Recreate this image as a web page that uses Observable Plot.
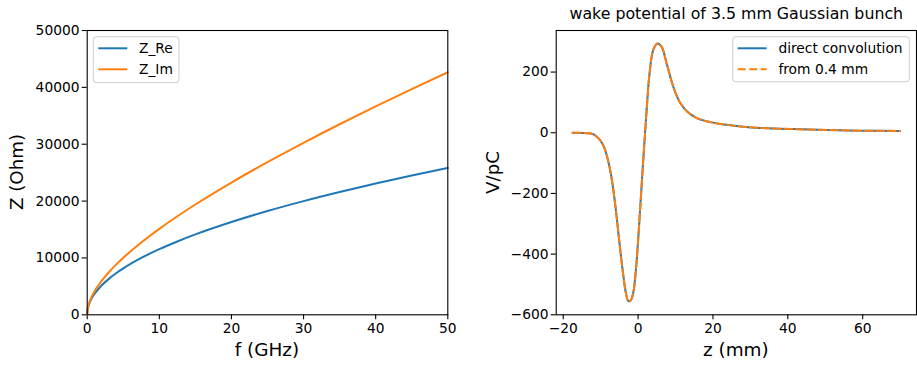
<!DOCTYPE html>
<html><head><meta charset="utf-8">
<script src="https://cdn.jsdelivr.net/npm/d3@7"></script>
<script src="https://cdn.jsdelivr.net/npm/@observablehq/plot@0.6"></script>
<style>
body{margin:0;background:#fff;}
#wrap{position:relative;width:917px;height:365px;font-family:"DejaVu Sans";}
#left,#right{position:absolute;top:0;}
#left{left:0;} #right{left:460px;}
</style></head><body>
<div id="wrap"><div id="left"></div><div id="right"></div></div>
<script>
// ---- Left panel: impedance ----
const freqGHz = [0, 0.05, 0.1, 0.25, 0.5, 1, 2, 3, 4, 5, 7.5, 10, 12.5, 15, 20, 25, 30, 35, 40, 45, 50];
const zRe = [0, 820, 1150, 1830, 2580, 3650, 5160, 6320, 7300, 8160, 10000, 11540, 12900, 14140, 16320, 18250, 19990, 21590, 23080, 24490, 25810];
const zIm = [0, 850, 1220, 1960, 2820, 4090, 5970, 7490, 8820, 10030, 12720, 15120, 17330, 19400, 23260, 26850, 30250, 33510, 36640, 39690, 42660];
const leftSeries = ["Z_Re", "Z_Im"];
const leftXTicks = [0, 10, 20, 30, 40, 50];
const leftYTicks = [0, 10000, 20000, 30000, 40000, 50000];

// ---- Right panel: wake potential ----
const wakeZmm = [-17.5, -15, -13, -12, -11, -10, -9, -8, -7, -6, -5, -4, -3.3, -2.6, -2.0, -1.3, -0.5, 0.4, 1.3, 2.2, 3.1, 4.1, 5.2, 6.3, 7.7, 9.5, 11.2, 13.1, 15.7, 19.3, 23.7, 28, 32.6, 41.5, 50.4, 59.3, 70];
const wakeDirect = [0, -0.5, -2, -5, -13, -27, -50, -92, -155, -248, -360, -465, -525, -555, -553, -528, -440, -280, -105, 60, 200, 275, 294, 283, 225, 148, 100, 70, 48, 35, 26, 20, 16, 12, 9, 7, 6];
const wakeFrom04 = [0, -0.5, -2, -5, -13, -27, -50, -92, -155, -248, -360, -465, -525, -555, -553, -528, -440, -280, -105, 60, 200, 275, 294, 283, 225, 148, 100, 70, 48, 35, 26, 20, 16, 12, 9, 7, 6];
const rightSeries = ["direct convolution", "from 0.4 mm"];
const rightXTicks = [-20, 0, 20, 40, 60];
const rightYTicks = [-600, -400, -200, 0, 200];
const title = "wake potential of 3.5 mm Gaussian bunch";

const blue = "#1f77b4", orange = "#ff7f0e";
const FONT = "DejaVu Sans";
const baseStyle = {fontFamily: FONT, fontSize: "13.8px", color: "black", background: "white", overflow: "visible"};

const reRows = freqGHz.map((f, i) => ({f, v: zRe[i]}));
const imRows = freqGHz.map((f, i) => ({f, v: zIm[i]}));

const leftPlot = Plot.plot({
  width: 460, height: 365,
  marginLeft: 86.7, marginRight: 12.7, marginTop: 30, marginBottom: 50.7,
  style: baseStyle,
  x: {domain: [0, 50]},
  y: {domain: [0, 50000]},
  marks: [
    Plot.axisX({ticks: leftXTicks, tickFormat: "d", tickSize: 5, tickPadding: 3.4, label: null, strokeWidth: 1.1}),
    Plot.axisY({ticks: leftYTicks, tickFormat: "d", tickSize: 5, tickPadding: 2.7, label: null, strokeWidth: 1.1}),
    Plot.line(reRows, {x: "f", y: "v", stroke: blue, strokeWidth: 2, curve: "monotone-x"}),
    Plot.line(imRows, {x: "f", y: "v", stroke: orange, strokeWidth: 2, curve: "monotone-x"}),
    Plot.frame({stroke: "black", strokeWidth: 1.1})
  ]
});
document.getElementById("left").appendChild(leftPlot);

const directRows = wakeZmm.map((z, i) => ({z, v: wakeDirect[i]}));
const fromRows = wakeZmm.map((z, i) => ({z, v: wakeFrom04[i]}));

const rightPlot = Plot.plot({
  width: 457, height: 365,
  marginLeft: 95.7, marginRight: 1, marginTop: 30, marginBottom: 50.7,
  style: baseStyle,
  x: {domain: [-21.875, 74.375]},
  y: {domain: [-600, 337]},
  marks: [
    Plot.axisX({ticks: rightXTicks, tickFormat: "d", tickSize: 5, tickPadding: 3.4, label: null, strokeWidth: 1.1}),
    Plot.axisY({ticks: rightYTicks, tickFormat: "d", tickSize: 5, tickPadding: 2.7, label: null, strokeWidth: 1.1}),
    Plot.line(directRows, {x: "z", y: "v", stroke: blue, strokeWidth: 2, curve: "catmull-rom"}),
    Plot.line(fromRows, {x: "z", y: "v", stroke: orange, strokeWidth: 2, strokeDasharray: "8,3.5", curve: "catmull-rom"}),
    Plot.frame({stroke: "black", strokeWidth: 1.1})
  ]
});
document.getElementById("right").appendChild(rightPlot);

function addText(svg, txt, x, y, size, opts = {}) {
  const t = d3.select(svg).append("text")
    .attr("x", x).attr("y", y)
    .attr("font-family", FONT).attr("font-size", size)
    .attr("fill", "black")
    .attr("text-anchor", opts.anchor || "middle")
    .text(txt);
  if (opts.rotate) t.attr("transform", `rotate(-90,${x},${y})`);
  if (opts.dy) t.attr("dy", opts.dy);
  return t;
}

function addLegend(svg, box, labels, colors, dashes) {
  const g = d3.select(svg).append("g");
  g.append("rect").attr("x", box.x).attr("y", box.y).attr("width", box.w).attr("height", box.h)
    .attr("rx", 3).attr("fill", "white").attr("fill-opacity", 0.8).attr("stroke", "#cccccc").attr("stroke-width", 1);
  labels.forEach((lab, i) => {
    const cy = box.y + 11.6 + i * 21;
    g.append("line").attr("x1", box.x + 5).attr("x2", box.x + 34).attr("y1", cy).attr("y2", cy)
      .attr("stroke", colors[i]).attr("stroke-width", 2).attr("stroke-dasharray", dashes[i] || null);
    g.append("text").attr("x", box.x + 45.7).attr("y", cy).attr("dy", "0.36em")
      .attr("text-anchor", "start")
      .attr("font-family", FONT).attr("font-size", 13.8).attr("fill", "black").text(lab);
  });
}

// left labels
addText(leftPlot, "f (GHz)", 267, 356, 18.4);
addText(leftPlot, "Z (Ohm)", 22.6, 172, 18.2, {rotate: true});
addLegend(leftPlot, {x: 93.3, y: 36.7, w: 85.7, h: 46}, leftSeries, [blue, orange], [null, null]);

// right labels
addText(rightPlot, "z (mm)", 275.8, 356, 18.4);
addText(rightPlot, "V/pC", 38.7, 172.5, 18.2, {rotate: true});
addText(rightPlot, title, 276.3, 19, 15.8);
addLegend(rightPlot, {x: 272.7, y: 36.7, w: 176.6, h: 45}, rightSeries, [blue, orange], [null, "8,3.5"]);
</script>
</body></html>
